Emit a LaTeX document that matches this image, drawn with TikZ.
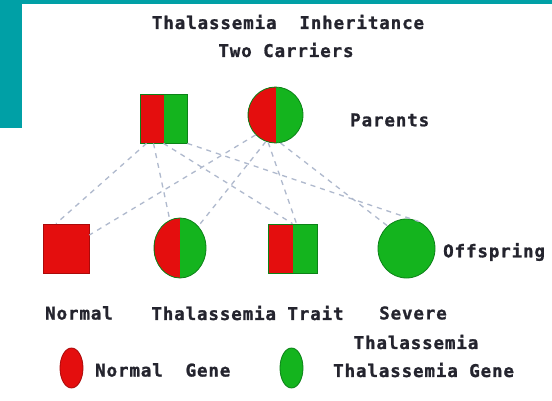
\documentclass[tikz,border=0pt]{standalone}
\usepackage{fontspec}
\setmainfont{DejaVu Sans Mono}[LetterSpace=5, BoldFeatures={FakeBold=1.2}]
\usetikzlibrary{shapes.geometric}
\definecolor{tealbar}{RGB}{0,160,166}
\definecolor{gred}{RGB}{228,14,14}
\definecolor{ggreen}{RGB}{20,180,30}
\definecolor{dred}{RGB}{170,10,10}
\definecolor{dgreen}{RGB}{12,130,24}
\definecolor{txt}{RGB}{36,36,46}
\definecolor{dashc}{RGB}{175,185,205}
\begin{document}
\begin{tikzpicture}[x=1pt,y=-1pt,
  lbl/.style={font=\bfseries\fontsize{17.5}{19}\selectfont, text=txt, inner sep=0pt},
  sqbox/.style={rectangle, minimum width=#1, minimum height=49pt, inner sep=0pt},
  ellbox/.style n args={2}{ellipse, minimum width=#1, minimum height=#2, inner sep=0pt},
  halves/.style={fill=ggreen, draw=dgreen, line width=0.8pt,
    path picture={\fill[gred] (path picture bounding box.south west) rectangle (path picture bounding box.north);
      \draw[dred, line width=1.6pt] (path picture bounding box.south west) -- (path picture bounding box.north west);}},
  allred/.style={fill=gred, draw=dred, line width=0.8pt},
  allgreen/.style={fill=ggreen, draw=dgreen, line width=0.8pt},
  conn/.style={draw=dashc, line width=1.3pt, dash pattern=on 5pt off 5pt}]
\useasboundingbox (0,0) rectangle (552,401);
\fill[white] (0,0) rectangle (552,401);
\fill[tealbar] (0,0) rectangle (552,4);
\fill[tealbar] (0,0) rectangle (22,128);

% titles
\node[lbl] (t1) at (288,22) {Thalassemia\ \ Inheritance};
\node[lbl] (t2) at (286,50) {Two Carriers};

% parents
\node[sqbox=47pt, halves] (ps) at (163.5,118.5) {};
\node[ellbox={55pt}{56pt}, halves] (pc) at (275.5,115) {};
\node[lbl, anchor=west] (par) at (350,120) {Parents};

% offspring
\node[sqbox=46pt, allred] (nm) at (66,248.5) {};
\node[ellbox={52pt}{60pt}, halves] (tc) at (180,248) {};
\node[sqbox=49pt, halves] (ts) at (292.5,248.5) {};
\node[ellbox={57pt}{59pt}, allgreen] (sv) at (406.5,248.5) {};
\node[lbl, anchor=west] (off) at (443,252) {Offspring};

% connectors
\draw[conn] ([xshift=-17pt]ps.south) -- ([xshift=-10pt]nm.north);
\draw[conn] ([xshift=-10pt]ps.south) -- (tc.110);
\draw[conn] (ps.south) -- (ts.north);
\draw[conn] (ps.south east) -- (sv.65);
\draw[conn] (pc.-135) -- (nm.30);
\draw[conn] (pc.-110) -- (tc.50);
\draw[conn] (pc.-105) -- ([xshift=4pt]ts.north);
\draw[conn] (pc.-80) -- (sv.130);

% labels
\node[lbl] (lnm) at (79,313) {Normal};
\node[lbl] (ltr) at (247.5,313) {Thalassemia Trait};
\node[lbl] (lsv) at (413,313) {Severe};
\node[lbl] (lsv2) at (416,342) {Thalassemia};

% legend
\node[ellbox={23pt}{40pt}, allred] (kr) at (71.5,368) {};
\node[lbl, anchor=west] (krt) at (95,370) {Normal\ \ Gene};
\node[ellbox={23pt}{40pt}, allgreen] (kg) at (291.5,368) {};
\node[lbl, anchor=west] (kgt) at (333,370) {Thalassemia Gene};
\end{tikzpicture}
\end{document}
